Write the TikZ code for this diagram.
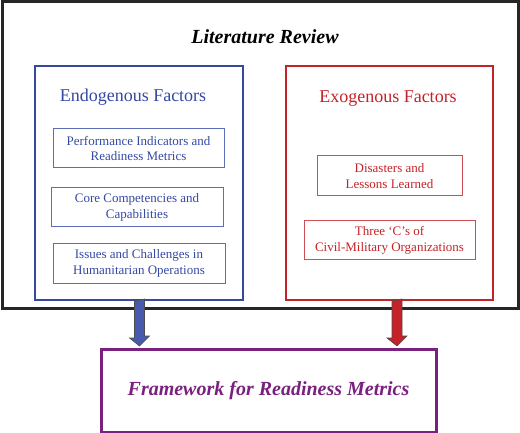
\documentclass[tikz,border=0pt]{standalone}
\usepackage{fontspec}
\setmainfont{Liberation Serif}
\usetikzlibrary{calc}

\definecolor{endoblue}{RGB}{52,72,164}
\definecolor{exored}{RGB}{196,34,40}
\definecolor{framepurple}{RGB}{122,32,126}

\begin{document}
\begin{tikzpicture}[x=1pt, y=-1pt,
	box/.style={draw, line width=#1, inner sep=0pt},
	sub/.style={draw, line width=1pt, inner sep=0pt, align=center, font=\fontsize{13}{15.5}\selectfont},
	head/.style={font=\fontsize{18}{21}\selectfont},
	blockarrow/.style={draw=black!70, line width=0.6pt}]
	\useasboundingbox (0,0) rectangle (520,433);
	
	\node[box=3pt, draw=black!85, minimum width=516pt, minimum height=306pt] (lit) at (260,155) {};
	\node[font=\fontsize{20}{24}\selectfont\bfseries\itshape] (littitle) at (265,37) {Literature Review};
	
	\node[box=2pt, draw=endoblue, minimum width=208pt, minimum height=234pt] (endo) at (139,183) {};
	\node[head, text=endoblue] (endotitle) at (133,97) {Endogenous Factors};
	\node[sub, draw=endoblue!80, text=endoblue, minimum width=171pt, minimum height=39pt] (perf) at (138.5,148.5) {Performance Indicators and\\Readiness Metrics};
	\node[sub, draw=endoblue!80, text=endoblue, minimum width=172pt, minimum height=39pt] (core) at (137,207.5) {Core Competencies and\\Capabilities};
	\node[sub, draw=endoblue!80, text=endoblue, minimum width=172pt, minimum height=39pt] (issues) at (139,263.5) {Issues and Challenges in\\Humanitarian Operations};
	
	\node[box=2pt, draw=exored, minimum width=207pt, minimum height=234pt] (exo) at (389.5,183) {};
	\node[head, text=exored] (exotitle) at (388,99) {Exogenous Factors};
	\node[sub, draw=exored!80, text=exored, minimum width=145pt, minimum height=40pt] (disaster) at (389.5,176) {Disasters and\\Lessons Learned};
	\node[sub, draw=exored!80, text=exored, minimum width=171pt, minimum height=39pt] (threec) at (389.5,240.5) {Three ‘C’s of\\Civil-Military Organizations};
	
	\node[box=3pt, draw=framepurple, minimum width=335pt, minimum height=83pt, text=framepurple, font=\fontsize{20}{24}\selectfont\bfseries\itshape] (frame) at (268.5,390.5) {Framework for Readiness Metrics};
	
	% block arrows into the framework
	\draw[blockarrow, fill=endoblue!90] ($(endo.south)+(-4.5,0)$) -- ++(0,37) -- ++(-5,0) -- ($(endo.south |- frame.north)+(0.5,-1.5)$) -- ++(10,-10) -- ++(-5,0) -- ++(0,-37) -- cycle;
	\draw[blockarrow, fill=exored] ($(exo.south)+(2.5,0)$) -- ++(0,37) -- ++(-5,0) -- ($(exo.south |- frame.north)+(7.5,-1.5)$) -- ++(10,-10) -- ++(-5,0) -- ++(0,-37) -- cycle;
\end{tikzpicture}
\end{document}
